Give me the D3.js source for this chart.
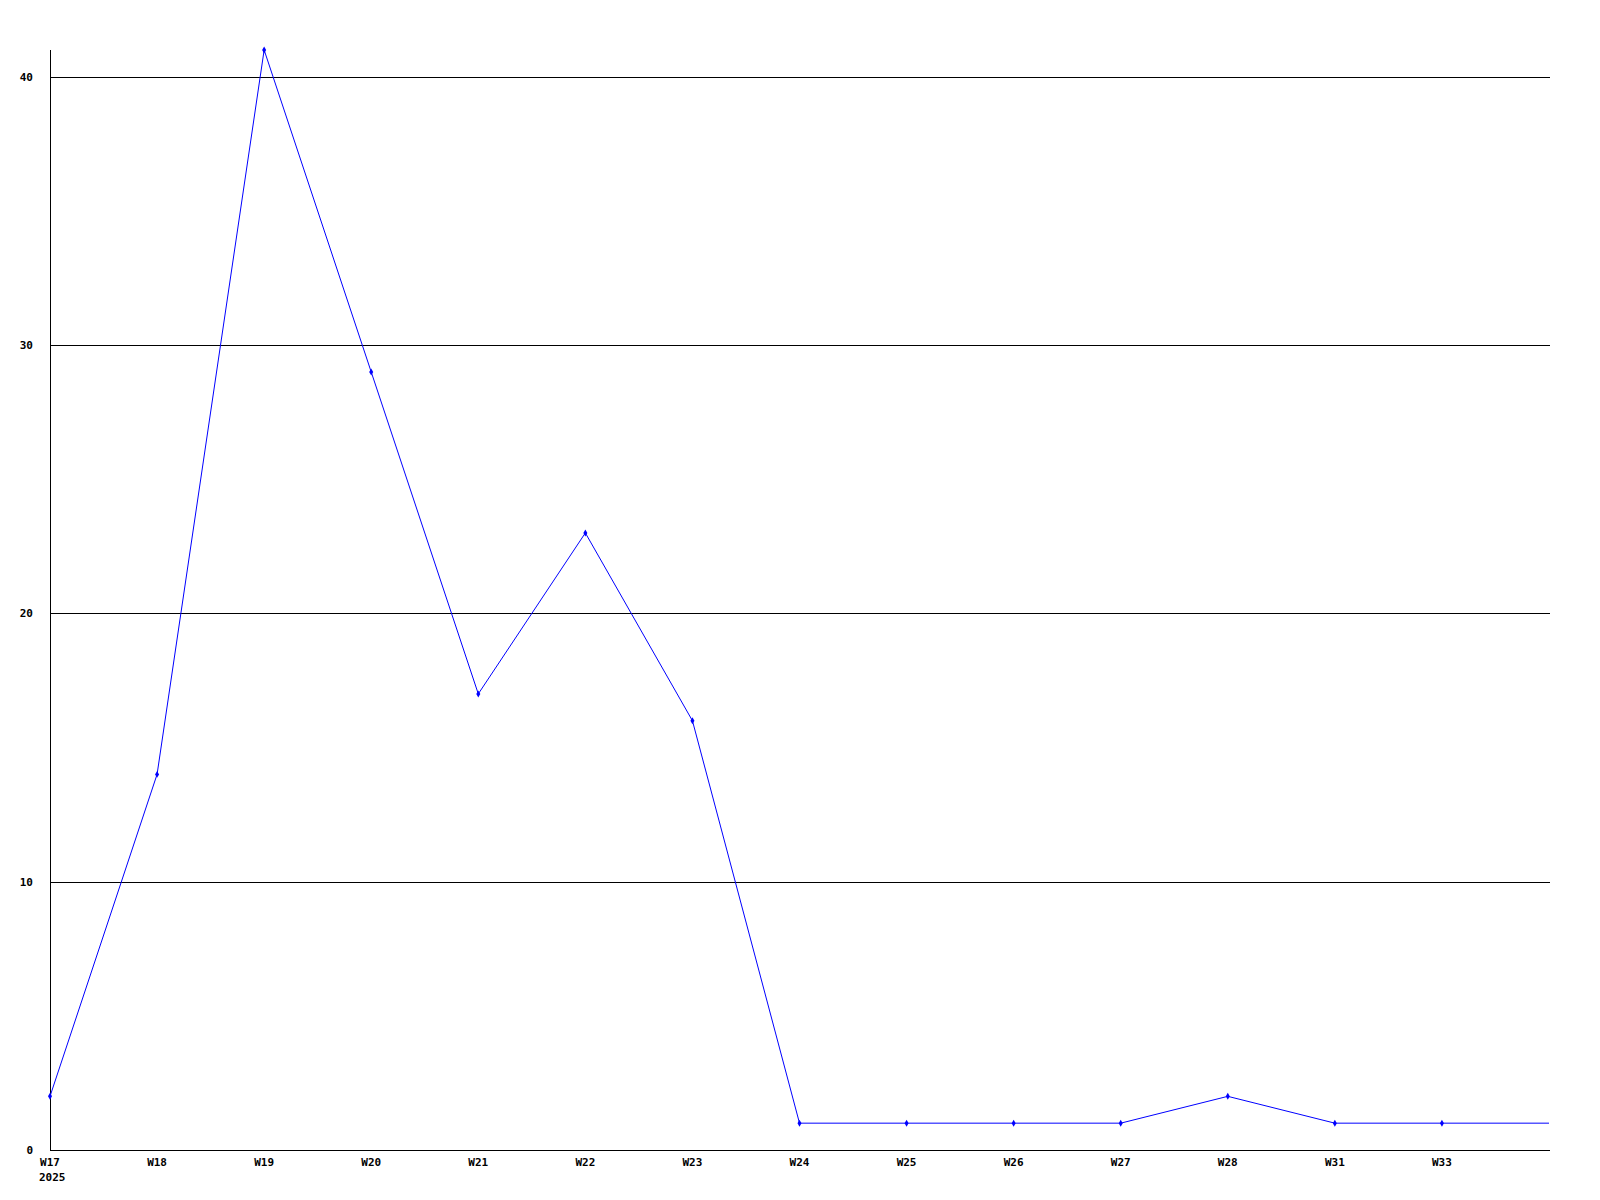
<!DOCTYPE html>
<html>
<head>
<meta charset="utf-8">
<script src="https://cdn.jsdelivr.net/npm/d3@7"></script>
<style>
  body { margin: 0; background: #fff; }
  text { font-family: "DejaVu Sans Mono", monospace; font-weight: bold; font-size: 11px; fill: #000; }
</style>
</head>
<body>
<div id="chart"></div>
<script>
// week labels (last point has no label, line just runs to the edge)
const weeks = ["W17", "W18", "W19", "W20", "W21", "W22", "W23", "W24", "W25", "W26", "W27", "W28", "W31", "W33", ""];
const counts = [2, 14, 41, 29, 17, 23, 16, 1, 1, 1, 1, 2, 1, 1, 1];
const yTicks = [0, 10, 20, 30, 40];
const yearLabel = "2025";

const margin = {top: 50, right: 50, bottom: 50, left: 50},
    width = 1600 - margin.left - margin.right,
    height = 1200 - margin.top - margin.bottom;

const svg = d3.select("#chart")
  .append("svg")
    .attr("width", 1600)
    .attr("height", 1200)
  .append("g")
    .attr("transform", `translate(${margin.left},${margin.top})`);

const x = d3.scaleLinear()
  .domain([0, weeks.length - 1])
  .range([0, 1499]);

const y = d3.scaleLinear()
  .domain([0, 41])
  .range([height, 0]);

// gridlines
svg.append("g")
  .selectAll("line")
  .data(yTicks.filter(d => d > 0))
  .join("line")
    .attr("x1", 0)
    .attr("x2", 1500)
    .attr("y1", d => Math.round(y(d)) + 0.5)
    .attr("y2", d => Math.round(y(d)) + 0.5)
    .attr("stroke", "#000")
    .attr("shape-rendering", "crispEdges");

// y labels
svg.append("g")
  .selectAll("text")
  .data(yTicks)
  .join("text")
    .attr("x", -17)
    .attr("y", d => y(d))
    .attr("dy", "0.35em")
    .attr("text-anchor", "end")
    .text(d => d);

// axes lines
svg.append("line")
  .attr("x1", 0.5).attr("x2", 0.5)
  .attr("y1", 0).attr("y2", height)
  .attr("stroke", "#000")
  .attr("shape-rendering", "crispEdges");
svg.append("line")
  .attr("x1", 0).attr("x2", 1500)
  .attr("y1", height + 0.5).attr("y2", height + 0.5)
  .attr("stroke", "#000")
  .attr("shape-rendering", "crispEdges");

// x labels
svg.append("g")
  .selectAll("text")
  .data(weeks)
  .join("text")
    .attr("x", (d, i) => x(i))
    .attr("y", height + 16)
    .attr("text-anchor", "middle")
    .text(d => d);

svg.append("text")
  .attr("x", x(0) - 11)
  .attr("y", height + 31)
  .text(yearLabel);

// the line
svg.append("path")
  .datum(counts)
  .attr("fill", "none")
  .attr("stroke", "#0000ff")
  .attr("stroke-width", 1)
  .attr("d", d3.line()
    .x((d, i) => x(i))
    .y(d => y(d)));

// point markers (not on the trailing unlabeled point)
svg.append("g")
  .selectAll("path")
  .data(counts.slice(0, weeks.length - 1))
  .join("path")
    .attr("transform", (d, i) => `translate(${x(i)},${y(d)})`)
    .attr("d", d3.symbol(d3.symbolDiamond, 14))
    .attr("fill", "#0000ff");
</script>
</body>
</html>
